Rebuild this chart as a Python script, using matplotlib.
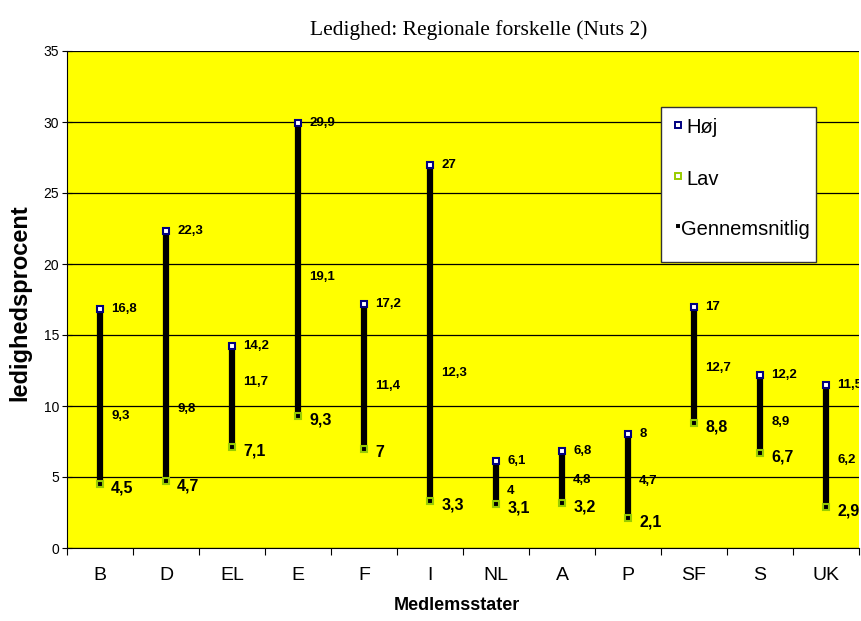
import matplotlib.pyplot as plt
from matplotlib.patches import Rectangle

countries = ["B", "D", "EL", "E", "F", "I", "NL", "A", "P", "SF", "S", "UK"]
hoej = [16.8, 22.3, 14.2, 29.9, 17.2, 27, 6.1, 6.8, 8, 17, 12.2, 11.5]
lav = [4.5, 4.7, 7.1, 9.3, 7, 3.3, 3.1, 3.2, 2.1, 8.8, 6.7, 2.9]
gennemsnit = [9.3, 9.8, 11.7, 19.1, 11.4, 12.3, 4, 4.8, 4.7, 12.7, 8.9, 6.2]

plt.rcParams['font.family'] = ['Liberation Sans', 'DejaVu Sans']

def fmt(v):
    return ("%g" % v).replace(".", ",")

fig = plt.figure(figsize=(8.61, 6.21), dpi=100)
ax = fig.add_axes([67 / 861, 73 / 621, 792 / 861, 497 / 621])
ax.set_facecolor("#ffff00")

x = list(range(len(countries)))

# high-low lines + markers
ax.vlines(x, lav, hoej, color="black", linewidth=4.5, zorder=3)
ax.plot(x, hoej, ls="none", marker="s", ms=5, mfc="white", mec="#000080",
        mew=1.5, zorder=4)
ax.plot(x, lav, ls="none", marker="s", ms=5, mfc="black", mec="#99cc00",
        mew=1.5, zorder=4)
ax.plot(x, gennemsnit, ls="none", marker="s", ms=1.5, mfc="black", mec="black",
        zorder=4)

for i in x:
    ax.text(i + 0.17, hoej[i], fmt(hoej[i]), fontsize=9.5, fontweight="bold",
            va="center", ha="left", zorder=5, clip_on=True)
    ax.text(i + 0.17, lav[i] - 0.3, fmt(lav[i]), fontsize=11.5, fontweight="bold",
            va="center", ha="left", zorder=5, clip_on=True)
    ax.text(i + 0.17, gennemsnit[i], fmt(gennemsnit[i]), fontsize=9.5,
            fontweight="bold", va="center", ha="left", zorder=5, clip_on=True)

ax.set_xlim(-0.5, len(countries) - 0.5)
ax.set_ylim(0, 35)
ax.set_yticks(range(0, 36, 5))
ax.yaxis.grid(True, color="black", linewidth=0.9)
ax.set_axisbelow(True)
ax.set_xticks([i - 0.5 for i in x] + [len(countries) - 0.5])
ax.set_xticklabels([])
ax.set_xticks(x, minor=True)
ax.set_xticklabels(countries, minor=True, fontsize=14)
ax.tick_params(axis="x", which="minor", length=0, pad=14)
ax.tick_params(axis="x", which="major", direction="out", length=5)
ax.tick_params(axis="y", direction="inout", length=7, labelsize=10, pad=2)

for s in ["top", "right"]:
    ax.spines[s].set_visible(False)

fig.text(479 / 861, 1 - 30 / 621, "Ledighed: Regionale forskelle (Nuts 2)",
         fontsize=15.5, family="Liberation Serif", ha="center", va="center")
fig.text(20 / 861, 1 - 303 / 621, "ledighedsprocent", fontsize=17,
         fontweight="bold", rotation=90, ha="center", va="center")
fig.text(457 / 861, 1 - 606 / 621, "Medlemsstater", fontsize=13,
         fontweight="bold", ha="center", va="center")

# legend box drawn by hand
box = Rectangle((0.75, 0.5755), 0.1957, 0.3115, transform=ax.transAxes,
                facecolor="white", edgecolor="#333333", linewidth=1.0, zorder=6)
ax.add_patch(box)
leg_items = [
    ("Høj", "white", "#000080", 5, 0.852),
    ("Lav", "white", "#99cc00", 5, 0.748),
    ("Gennemsnitlig", "black", "black", 1.5, 0.647),
]
for label, fc, ec, ms, yy in leg_items:
    ax.plot([0.771], [yy], transform=ax.transAxes, ls="none", marker="s", ms=ms,
            mfc=fc, mec=ec, mew=1.4, zorder=7, clip_on=False)
    t = ax.text(0.782 if ms > 2 else 0.775, yy - 0.006, label, transform=ax.transAxes,
                fontsize=14.5, va="center", ha="left", zorder=7)
    t.set_clip_path(box)

fig.savefig("out.png", dpi=100)
